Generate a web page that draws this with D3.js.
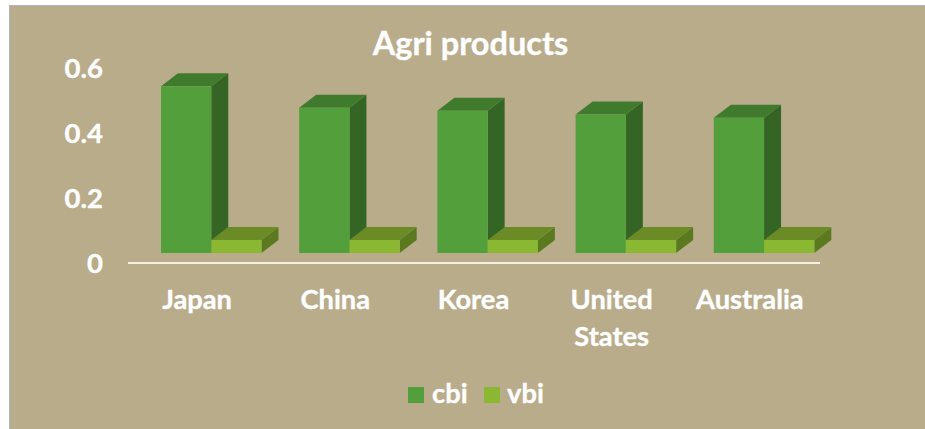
<!DOCTYPE html>
<html><head><meta charset="utf-8">
<script src="https://cdn.jsdelivr.net/npm/d3@7"></script>
<style>
html,body{margin:0;padding:0;background:#fff;overflow:hidden}
svg{display:block}
text{font-family:Lato,sans-serif;font-weight:700;fill:#fff;stroke:#fff;stroke-width:0.35}
</style></head><body>
<svg id="c" width="925" height="429"></svg>
<script>
const categories=[["Japan"],["China"],["Korea"],["United","States"],["Australia"]];
const cbi=[0.513,0.447,0.438,0.426,0.416];
const vbi=[0.04,0.04,0.04,0.04,0.04];
const tickValues=[0,0.2,0.4,0.6];
const tickLabels=["0","0.2","0.4","0.6"];
const seriesNames=["cbi","vbi"];
const faces=[{front:"#539F3B",top:"#407A2C",side:"#356525"},{front:"#8BB832",top:"#6B8B27",side:"#5B7A20"}];

const svg=d3.select("#c");
svg.append("rect").attr("x",9.5).attr("y",5.5).attr("width",916).attr("height",424)
  .attr("fill","#B9AC8B").attr("stroke","#B4B4BC").attr("stroke-width",1);

const y=d3.scaleLinear().domain([0,0.6]).range([263,68]);
const x=d3.scaleBand().domain(d3.range(categories.length)).range([128,819]);
const inner=d3.scaleBand().domain([0,1]).range([33,133.5]);
const floor=10, dx=17, dy=13;

// bars, back to front
[0,1].forEach(s=>{
  const vals=s===0?cbi:vbi;
  const g=svg.append("g");
  vals.forEach((v,i)=>{
    const x0=x(i)+inner(s), x1=x0+inner.bandwidth();
    const yb=y(0)-floor, yt=y(v)-floor;
    const b=g.append("g");
    b.append("path").attr("d",`M${x1},${yt}L${x1+dx},${yt-dy}L${x1+dx},${yb-dy}L${x1},${yb}Z`).attr("fill",faces[s].side);
    b.append("path").attr("d",`M${x0},${yt}L${x0+dx},${yt-dy}L${x1+dx},${yt-dy}L${x1},${yt}Z`).attr("fill",faces[s].top);
    b.append("rect").attr("x",x0).attr("y",yt).attr("width",x1-x0).attr("height",yb-yt).attr("fill",faces[s].front);
  });
});

// axes
svg.append("line").attr("x1",128).attr("x2",820).attr("y1",y(0)).attr("y2",y(0))
  .attr("stroke","#F4F0E4").attr("stroke-width",2);
const ya=d3.axisLeft(y).tickValues(tickValues).tickFormat((d,i)=>tickLabels[i]).tickSize(0);
const yg=svg.append("g").attr("transform","translate(103,0)").call(ya);
yg.select(".domain").remove();
yg.selectAll("text").attr("x",0).attr("dy","0.35em").attr("font-size",27.5).style("fill","#fff");

categories.forEach((lines,i)=>{
  const t=svg.append("text").attr("text-anchor","middle").attr("font-size",27.3);
  lines.forEach((l,k)=>t.append("tspan").attr("x",x(i)+x.bandwidth()/2).attr("y",309+k*37).text(l));
});

svg.append("text").attr("x",470.5).attr("y",55).attr("text-anchor","middle").attr("font-size",32.5).text("Agri products");

// legend
const lx=[408,484], tx=[432,507];
seriesNames.forEach((n,i)=>{
  svg.append("rect").attr("x",lx[i]).attr("y",387).attr("width",16).attr("height",16).attr("fill",faces[i].front);
  svg.append("text").attr("x",tx[i]).attr("y",403).attr("font-size",27.3).text(n);
});
</script></body></html>
